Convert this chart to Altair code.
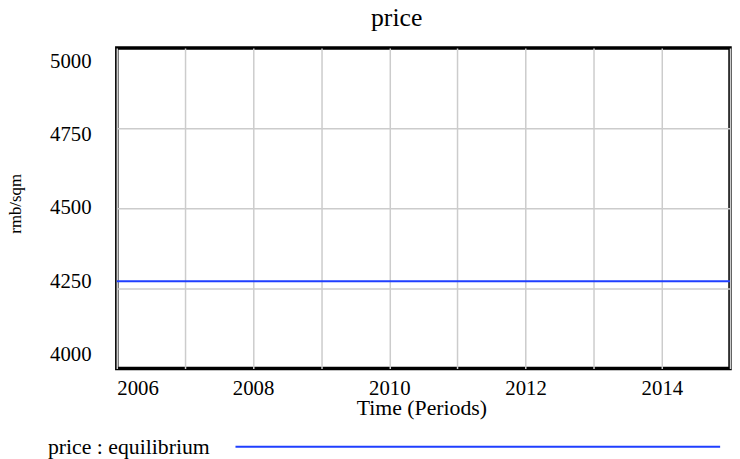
import altair as alt
import pandas as pd

# ---- data ----
years = [2006, 2007, 2008, 2009, 2010, 2011, 2012, 2013, 2014, 2015]
price = [4250, 4250, 4250, 4250, 4250, 4250, 4250, 4250, 4250, 4250]
series_name = "price : equilibrium"
y_label_values = [4000, 4250, 4500, 4750, 5000]
y_grid_values = [4226, 4499, 4772]
x_grid_values = years
y_domain = [3953, 5045]
x_domain = [2006, 2015]

df = pd.DataFrame({"time": years, "price": price, "series": [series_name] * len(years)})

FONT = "Liberation Serif"
BLUE = "#1f3fff"
GRID = "#cccccc"

base = alt.Chart(df)

line = base.mark_line(strokeWidth=2).encode(
    x=alt.X(
        "time:Q",
        scale=alt.Scale(domain=x_domain, nice=False, zero=False),
        axis=alt.Axis(
            values=x_grid_values,
            format="d",
            labelExpr="datum.value % 2 == 0 ? datum.label : ''",
            grid=True,
            gridColor=GRID,
            gridWidth=1.5,
            ticks=False,
            tickSize=0,
            domain=False,
            labelBaseline="alphabetic",
            labelPadding=26,
            labelFont=FONT,
            labelFontSize=21,
            labelColor="black",
            title="Time (Periods)",
            titleFont=FONT,
            titleFontSize=22,
            titleFontWeight="normal",
            titleColor="black",
            titleBaseline="alphabetic",
            titleAlign="center",
            titleX=308,
            titleY=47,
        ),
    ),
    y=alt.Y(
        "price:Q",
        scale=alt.Scale(domain=y_domain, nice=False, zero=False),
        axis=alt.Axis(
            values=y_label_values,
            format="d",
            grid=False,
            ticks=False,
            tickSize=0,
            domain=False,
            labelPadding=26,
            labelFont=FONT,
            labelFontSize=21,
            labelColor="black",
            title="rmb/sqm",
            titleFont=FONT,
            titleFontSize=17,
            titleFontWeight="normal",
            titleColor="black",
            titleAngle=270,
            titleBaseline="alphabetic",
            titleAlign="center",
            titleX=-97,
            titleY=157,
        ),
    ),
    color=alt.Color(
        "series:N",
        scale=alt.Scale(range=[BLUE]),
        legend=alt.Legend(
            orient="none",
            legendX=119,
            legendY=157,
            title=None,
            padding=0,
            symbolType="stroke",
            symbolSize=240100,
            symbolStrokeWidth=2,
            labelFont=FONT,
            labelFontSize=22,
            labelColor="black",
            labelAlign="right",
            labelOffset=alt.ExprRef(expr="-517"),
            labelLimit=0,
        ),
    ),
)

grid = base.mark_rule(opacity=0).encode(
    y=alt.Y(
        "price:Q",
        axis=alt.Axis(
            values=y_grid_values,
            grid=True,
            gridColor=GRID,
            gridWidth=1.5,
            labels=False,
            ticks=False,
            domain=False,
            title="",
            orient="right",
        ),
    )
)

chart = (
    alt.layer(grid, line)
    .resolve_axis(y="independent")
    .properties(
        width=620,
        height=324,
        padding={"left": 110, "top": 38, "right": 2, "bottom": 89},
        autosize=alt.AutoSizeParams(type="none"),
        background="white",
        title=alt.TitleParams(
            text="price",
            font=FONT,
            fontSize=26,
            fontWeight="normal",
            color="black",
            baseline="alphabetic",
            offset=1,
            dx=-27,
            dy=5,
        ),
    )
    .configure_view(stroke="black", strokeWidth=3.5, fill="white")
)

chart.save("out.html", embed_options={"renderer": "svg", "actions": False})
